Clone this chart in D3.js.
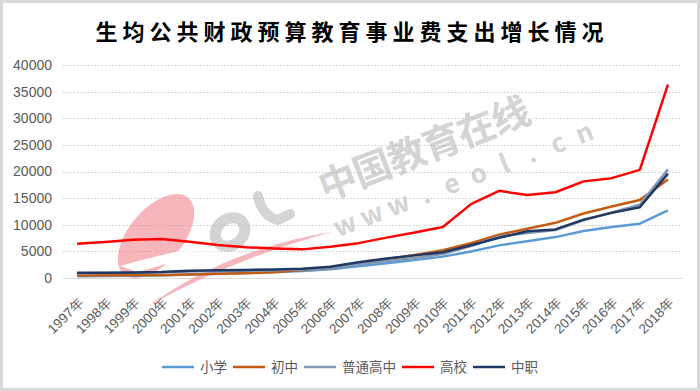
<!DOCTYPE html>
<html>
<head>
<meta charset="utf-8">
<script src="https://cdn.jsdelivr.net/npm/d3@7"></script>
<style>
  body { margin: 0; background: #fff; }
  svg { display: block; }
</style>
</head>
<body>
<div id="chart"></div>
<script>
const years = ['1997年','1998年','1999年','2000年','2001年','2002年','2003年','2004年','2005年','2006年','2007年',
  '2008年','2009年','2010年','2011年','2012年','2013年','2014年','2015年','2016年','2017年','2018年']

const xiaoxue  = [333, 370, 414, 491, 645, 814, 931, 1129, 1327, 1634, 2207, 2758, 3358, 4013, 4966, 6129, 6902, 7681, 8838, 9558, 10199, 12700]
const chuzhong = [470, 500, 530, 580, 680, 800, 900, 1100, 1498, 1897, 2679, 3543, 4332, 5214, 6542, 8137, 9258, 10359, 12105, 13416, 14641, 18500]
const gaozhong = [900, 950, 1000, 1080, 1200, 1300, 1350, 1450, 1600, 1900, 2600, 3200, 3750, 4510, 6000, 7776, 8448, 9025, 10821, 12315, 13769, 20400]
const gaoxiao  = [6450, 6775, 7201, 7310, 6816, 6178, 5773, 5553, 5376, 5869, 6546, 7578, 8542, 9590, 13878, 16367, 15592, 16103, 18144, 18748, 20299, 36300]
const zhongzhi = [1000, 1000, 1050, 1120, 1370, 1450, 1500, 1600, 1740, 2100, 2950, 3650, 4250, 4842, 6148, 7564, 8785, 9129, 10961, 12228, 13273, 19600]

const seriesNames = ['小学', '初中', '普通高中', '高校', '中职']
const seriesColors = ['#5b9bd5', '#c55a11', '#8497b0', '#ff0000', '#203864']
const yTicks = [0, 5000, 10000, 15000, 20000, 25000, 30000, 35000, 40000]

const series = [xiaoxue, chuzhong, gaozhong, gaoxiao, zhongzhi].map((values, i) => ({
  name: seriesNames[i],
  color: seriesColors[i],
  values
}))

const width = 700
const height = 391
const sans = '"Liberation Sans", Arial, sans-serif'
const cjk = '"Noto Sans CJK SC", sans-serif'

const svg = d3.select('#chart')
  .append('svg')
  .attr('width', width)
  .attr('height', height)

svg.append('rect')
  .attr('x', 1.5).attr('y', 1.5)
  .attr('width', width - 3).attr('height', height - 3)
  .attr('fill', '#fff')
  .attr('stroke', '#d9d9d9')
  .attr('stroke-width', 3)

svg.append('text')
  .attr('x', width / 2 + 2)
  .attr('y', 40)
  .attr('text-anchor', 'middle')
  .attr('font-family', cjk)
  .attr('font-weight', 'bold')
  .attr('font-size', '22px')
  .attr('letter-spacing', '5px')
  .attr('fill', '#000')
  .text('生均公共财政预算教育事业费支出增长情况')

const x = d3.scalePoint()
  .domain(years)
  .range([63, 682])
  .padding(0.5)

const y = d3.scaleLinear()
  .domain([0, 40000])
  .range([278, 65])

// grid
svg.append('g')
  .selectAll('line')
  .data(yTicks.filter(d => d > 0))
  .enter()
  .append('line')
    .attr('x1', 63).attr('x2', 682)
    .attr('y1', d => Math.round(y(d)) + 0.5)
    .attr('y2', d => Math.round(y(d)) + 0.5)
    .attr('stroke', '#c8c8c8')
    .attr('stroke-dasharray', '1.5,2')

svg.append('line')
  .attr('x1', 63).attr('x2', 682)
  .attr('y1', Math.round(y(0)) + 0.5)
  .attr('y2', Math.round(y(0)) + 0.5)
  .attr('stroke', '#d9d9d9')

// y labels
svg.append('g')
  .selectAll('text')
  .data(yTicks)
  .enter()
  .append('text')
    .attr('x', 52)
    .attr('y', d => y(d))
    .attr('dy', '0.35em')
    .attr('text-anchor', 'end')
    .attr('font-family', sans)
    .attr('font-size', '14px')
    .attr('fill', '#595959')
    .text(d => d)

// x labels
svg.append('g')
  .selectAll('text')
  .data(years)
  .enter()
  .append('text')
    .attr('transform', d => `translate(${x(d) + 4}, 300) rotate(-45)`)
    .attr('text-anchor', 'end')
    .attr('dy', '0.35em')
    .attr('font-family', sans)
    .attr('font-size', '13.5px')
    .attr('fill', '#595959')
    .text(d => d)

// watermark
const wm = svg.append('g').attr('opacity', 0.6)

wm.append('ellipse')
  .attr('transform', 'translate(156, 236) rotate(-50)')
  .attr('rx', 50).attr('ry', 27)
  .attr('fill', '#f08890')

wm.append('path')
  .attr('d', 'M120,266 Q225,236 335,229 Q230,244 138,272 Z')
  .attr('fill', '#fff')

wm.append('path')
  .attr('d', 'M148,306 Q230,248 332,232 Q235,258 148,306 Z')
  .attr('fill', '#f08890')

wm.append('ellipse')
  .attr('transform', 'translate(230, 232) rotate(-40)')
  .attr('rx', 16).attr('ry', 13)
  .attr('fill', 'none')
  .attr('stroke', '#b8b8b8')
  .attr('stroke-width', 11)

wm.append('path')
  .attr('d', 'M258,196 Q262,216 278,220 L290,214')
  .attr('fill', 'none')
  .attr('stroke', '#b8b8b8')
  .attr('stroke-width', 10)
  .attr('stroke-linecap', 'round')

const wmText = (chars, x0, y0, step, angle, size) => {
  const rad = angle * Math.PI / 180
  wm.append('g')
    .selectAll('text')
    .data(chars)
    .enter()
    .append('text')
      .attr('transform', (d, i) =>
        `translate(${x0 + i * step * Math.cos(rad)}, ${y0 - i * step * Math.sin(rad)}) rotate(${-angle})`)
      .attr('text-anchor', 'middle')
      .attr('dy', '0.35em')
      .attr('font-family', cjk)
      .attr('font-weight', 'bold')
      .attr('font-size', size + 'px')
      .attr('fill', '#b8b8b8')
      .text(d => d)
}

wmText(Array.from('中国教育在线'), 338, 182, 37, 21, 38)
wmText(Array.from('www.eol.cn'), 345, 225, 28.5, 21, 26)

// lines
const line = d3.line()
  .x((d, i) => x(years[i]))
  .y(d => y(d))

svg.append('g')
  .selectAll('path')
  .data(series)
  .enter()
  .append('path')
    .attr('d', d => line(d.values))
    .attr('fill', 'none')
    .attr('stroke', d => d.color)
    .attr('stroke-width', 2.5)
    .attr('stroke-linejoin', 'round')

// legend
const legend = svg.append('g')
let lx = 162
series.forEach(s => {
  const item = legend.append('g')
  item.append('line')
    .attr('x1', lx).attr('x2', lx + 32)
    .attr('y1', 367).attr('y2', 367)
    .attr('stroke', s.color)
    .attr('stroke-width', 2.5)
  const t = item.append('text')
    .attr('x', lx + 38)
    .attr('y', 367)
    .attr('dy', '0.35em')
    .attr('font-family', cjk)
    .attr('font-size', '13.5px')
    .attr('fill', '#595959')
    .text(s.name)
  lx += 38 + t.node().getComputedTextLength() + 6
})
</script>
</body>
</html>
